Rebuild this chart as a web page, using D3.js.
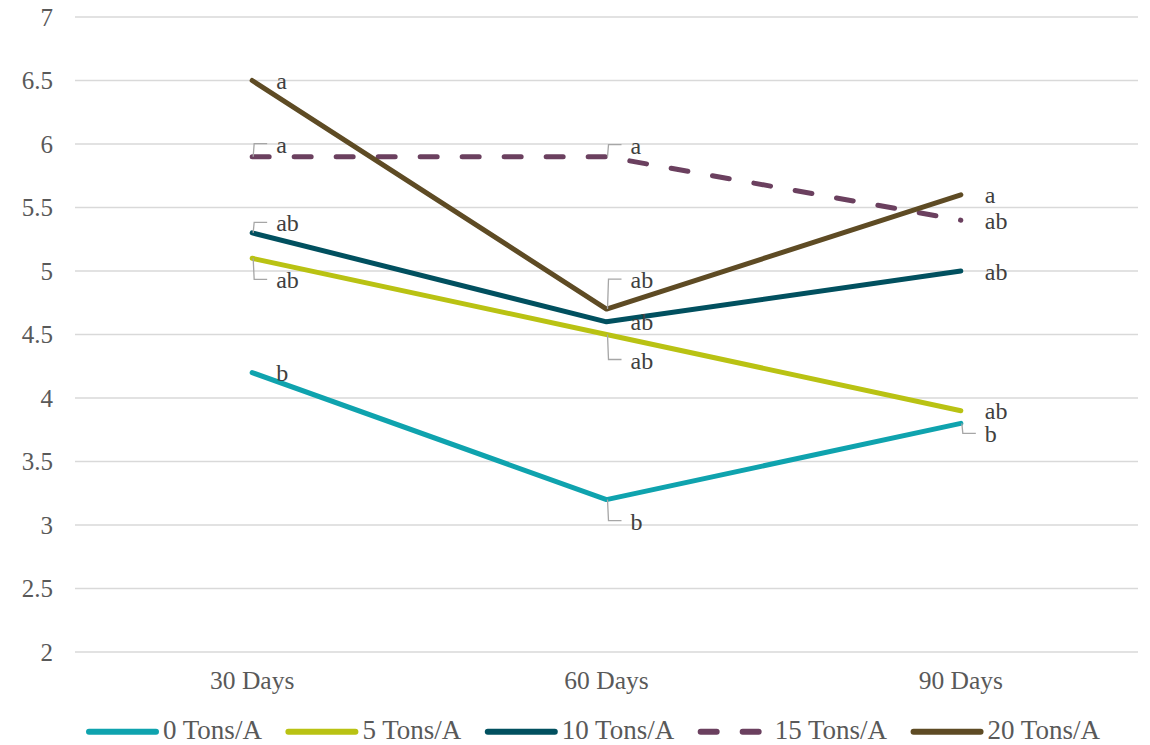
<!DOCTYPE html>
<html>
<head>
<meta charset="utf-8">
<script src="https://cdn.jsdelivr.net/npm/d3@7"></script>
<style>
  html, body { margin: 0; padding: 0; background: #ffffff; }
  svg { display: block; }
  text { font-family: "Liberation Serif", serif; }
</style>
</head>
<body>
<svg id="chart" width="1150" height="745"></svg>
<script>
// ---- data ----
const categories = ["30 Days", "60 Days", "90 Days"];
const seriesNames = ["0 Tons/A", "5 Tons/A", "10 Tons/A", "15 Tons/A", "20 Tons/A"];
const values0 = [4.2, 3.2, 3.8];
const values5 = [5.1, 4.5, 3.9];
const values10 = [5.3, 4.6, 5.0];
const values15 = [5.9, 5.9, 5.4];
const values20 = [6.5, 4.7, 5.6];
const letters0 = ["b", "b", "b"];
const letters5 = ["ab", "ab", "ab"];
const letters10 = ["ab", "ab", "ab"];
const letters15 = ["a", "a", "ab"];
const letters20 = ["a", "ab", "a"];
const yTicks = [2, 2.5, 3, 3.5, 4, 4.5, 5, 5.5, 6, 6.5, 7];

// ---- layout / style (kept separate from data) ----
const colors = ["#0fa3ae", "#b9c213", "#01505f", "#6b405f", "#5e4b24"];
const dashed = [false, false, false, true, false];
// label baseline shift relative to point (px); null = default (no leader)
const labelShift = [
  [null, 30, 19],
  [30, 34, null],
  [-1.6, null, null],
  [-4, -3, null],
  [null, -21, null]
];

const svg = d3.select("#chart");
const plot = { left: 75, right: 1138, top: 17, bottom: 652 };

const x = d3.scaleBand().domain(categories).range([plot.left, plot.right]);
const y = d3.scaleLinear().domain([2, 7]).range([plot.bottom, plot.top]);

// gridlines
svg.append("g").selectAll("line").data(yTicks).join("line")
  .attr("x1", plot.left).attr("x2", plot.right)
  .attr("y1", d => y(d)).attr("y2", d => y(d))
  .attr("stroke", "#d9d9d9").attr("stroke-width", 1.5);

// y axis labels
const yAxis = d3.axisLeft(y).tickValues(yTicks).tickSize(0).tickPadding(0)
  .tickFormat(d3.format("~g"));
const gy = svg.append("g").attr("transform", `translate(53,0)`).call(yAxis);
gy.select(".domain").remove();
gy.selectAll("text").attr("font-size", 25).attr("dy", null).attr("y", 8)
  .style("font-family", "'Liberation Serif', serif").attr("fill", "#595959");

// x axis labels
const xAxis = d3.axisBottom(x).tickSize(0).tickPadding(0);
const gx = svg.append("g").attr("transform", `translate(0,689)`).call(xAxis);
gx.select(".domain").remove();
gx.selectAll("text").attr("font-size", 25.5).attr("dy", null).attr("y", 0)
  .style("font-family", "'Liberation Serif', serif").attr("fill", "#595959");

const allValues = [values0, values5, values10, values15, values20];
const allLetters = [letters0, letters5, letters10, letters15, letters20];

const cx = c => x(c) + x.bandwidth() / 2;
const line = d3.line().x((d, i) => cx(categories[i])).y(d => y(d));

// lines
allValues.forEach((vals, s) => {
  svg.append("path")
    .datum(vals)
    .attr("d", line)
    .attr("fill", "none")
    .attr("stroke", colors[s])
    .attr("stroke-width", 5)
    .attr("stroke-linecap", "round")
    .attr("stroke-linejoin", "round")
    .attr("stroke-dasharray", dashed[s] ? "17,25" : null);
});

// data labels with leader lines
const gl = svg.append("g");
allValues.forEach((vals, s) => {
  vals.forEach((v, i) => {
    const px = cx(categories[i]);
    const py = y(v);
    const shift = labelShift[s][i];
    const base = py + (shift === null ? 8.5 : shift);
    if (shift !== null) {
      const ey = base - 9;
      gl.append("path")
        .attr("d", `M${px + 1},${py} L${px + 2},${ey} L${px + 15},${ey}`)
        .attr("fill", "none").attr("stroke", "#a6a6a6").attr("stroke-width", 1.3);
    }
    gl.append("text")
      .attr("x", px + 24).attr("y", base)
      .attr("font-size", 24)
      .attr("fill", "#404040")
      .text(allLetters[s][i]);
  });
});

// legend
const legend = svg.append("g");
let lx = 86;
const ly = 731.7;
seriesNames.forEach((name, s) => {
  const item = legend.append("g");
  item.append("line")
    .attr("x1", lx + 3).attr("x2", lx + 70)
    .attr("y1", ly).attr("y2", ly)
    .attr("stroke", colors[s]).attr("stroke-width", 6)
    .attr("stroke-linecap", "round")
    .attr("stroke-dasharray", dashed[s] ? "16,26" : null);
  const t = item.append("text")
    .attr("x", lx + 77).attr("y", 739)
    .attr("font-size", 27).attr("fill", "#595959")
    .text(name);
  const w = t.node().getComputedTextLength();
  lx = lx + 77 + w + 23.5;
});
</script>
</body>
</html>
